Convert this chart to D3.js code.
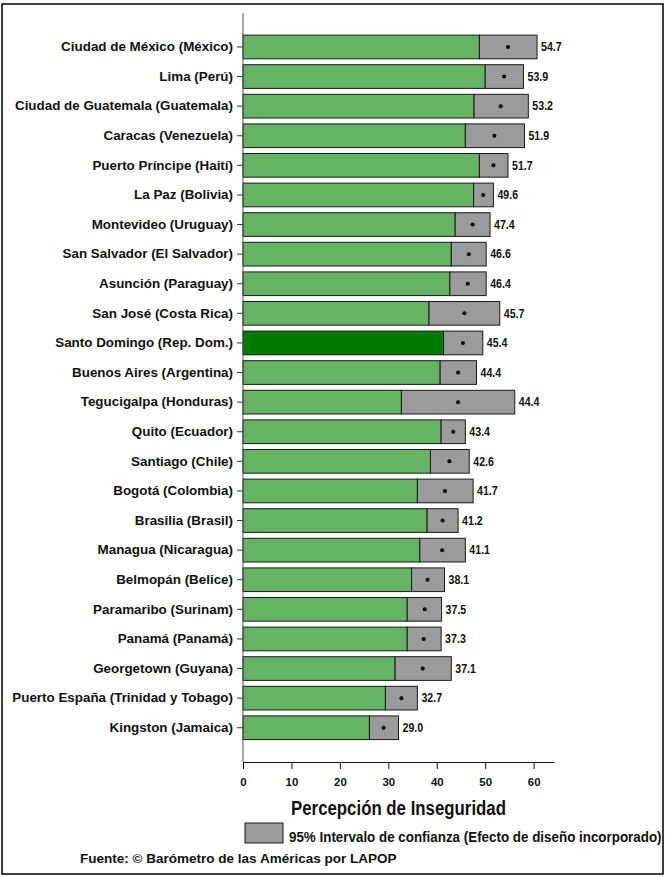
<!DOCTYPE html>
<html>
<head>
<meta charset="utf-8">
<script src="https://cdn.jsdelivr.net/npm/d3@7"></script>
<style>
  body { margin: 0; background: #fff; }
  text { font-family: 'Liberation Sans', Arial, sans-serif; font-weight: bold; }
</style>
</head>
<body>
<div id="chart"></div>
<script>
// cities, top to bottom
var cities = [
  'Ciudad de México (México)', 'Lima (Perú)', 'Ciudad de Guatemala (Guatemala)',
  'Caracas (Venezuela)', 'Puerto Príncipe (Haití)', 'La Paz (Bolivia)',
  'Montevideo (Uruguay)', 'San Salvador (El Salvador)', 'Asunción (Paraguay)',
  'San José (Costa Rica)', 'Santo Domingo (Rep. Dom.)', 'Buenos Aires (Argentina)',
  'Tegucigalpa (Honduras)', 'Quito (Ecuador)', 'Santiago (Chile)',
  'Bogotá (Colombia)', 'Brasilia (Brasil)', 'Managua (Nicaragua)',
  'Belmopán (Belice)', 'Paramaribo (Surinam)', 'Panamá (Panamá)',
  'Georgetown (Guyana)', 'Puerto España (Trinidad y Tobago)', 'Kingston (Jamaica)'
];

// mean values
var means = [54.7, 53.9, 53.2, 51.9, 51.7, 49.6, 47.4, 46.6, 46.4, 45.7, 45.4, 44.4,
  44.4, 43.4, 42.6, 41.7, 41.2, 41.1, 38.1, 37.5, 37.3, 37.1, 32.7, 29.0];

// 95% confidence interval, lower and upper bounds
var lower = [48.8, 50.0, 47.7, 45.9, 48.8, 47.6, 43.8, 43.0, 42.7, 38.4, 41.4, 40.7,
  32.7, 40.9, 38.7, 36.0, 38.0, 36.5, 34.8, 33.9, 33.9, 31.4, 29.4, 26.1];
var upper = [60.7, 57.9, 58.9, 58.1, 54.7, 51.7, 51.0, 50.2, 50.2, 53.0, 49.5, 48.2,
  56.1, 45.9, 46.7, 47.5, 44.4, 45.9, 41.6, 41.0, 40.9, 43.0, 36.0, 32.1];

var highlight = 'Santo Domingo (Rep. Dom.)';
var xTicks = [0, 10, 20, 30, 40, 50, 60];

var data = cities.map(function (c, i) {
  return { city: c, mean: means[i], lo: lower[i], hi: upper[i] };
});

var width = 665, height = 877;

// squeeze a text horizontally around its anchor (no narrow font installed)
function squeeze(sel, f) {
  sel.each(function () {
    var t = d3.select(this);
    var ax = +t.attr('x') || 0;
    t.attr('transform', 'translate(' + ax + ',0) scale(' + f + ',1) translate(' + (-ax) + ',0)');
  });
}
// squeeze a single text so it spans the given width
function fit(sel, w) {
  squeeze(sel, w / sel.node().getComputedTextLength());
}

var svg = d3.select('#chart')
  .append('svg')
  .attr('width', width)
  .attr('height', height);

// outer frame
svg.append('rect')
  .attr('x', 2).attr('y', 4)
  .attr('width', 661).attr('height', 870)
  .attr('fill', 'none')
  .attr('stroke', '#000')
  .attr('stroke-width', 1.5);

var x = d3.scaleLinear().domain([0, 64.2]).range([243, 554]);

var y = d3.scaleBand()
  .domain(cities)
  .range([29.2, 745.5])
  .paddingInner(0.2)
  .paddingOuter(0.2);

// green bar up to lower bound
svg.selectAll('.bar')
  .data(data)
  .enter()
  .append('rect')
  .attr('class', 'bar')
  .attr('x', x(0))
  .attr('y', function (d) { return y(d.city); })
  .attr('width', function (d) { return x(d.lo) - x(0); })
  .attr('height', y.bandwidth())
  .attr('fill', function (d) { return d.city === highlight ? '#007c00' : '#64b464'; })
  .attr('stroke', '#1a1a1a')
  .attr('stroke-width', 1);

// grey confidence box
svg.selectAll('.ci')
  .data(data)
  .enter()
  .append('rect')
  .attr('class', 'ci')
  .attr('x', function (d) { return x(d.lo); })
  .attr('y', function (d) { return y(d.city); })
  .attr('width', function (d) { return x(d.hi) - x(d.lo); })
  .attr('height', y.bandwidth())
  .attr('fill', '#9b9b9b')
  .attr('stroke', '#1a1a1a')
  .attr('stroke-width', 1);

// mean dot
svg.selectAll('.dot')
  .data(data)
  .enter()
  .append('circle')
  .attr('cx', function (d) { return x(d.mean); })
  .attr('cy', function (d) { return y(d.city) + y.bandwidth() / 2; })
  .attr('r', 2)
  .attr('fill', '#000');

// y axis
var yAxis = svg.append('g')
  .attr('transform', 'translate(' + x(0) + ',0)')
  .call(d3.axisLeft(y).tickSize(6).tickPadding(4));
yAxis.attr('font-family', null).attr('font-size', null);
yAxis.select('.domain').remove();
yAxis.selectAll('.tick line').attr('stroke', '#333');
var yLabels = yAxis.selectAll('.tick text')
  .attr('font-size', 13.5)
  .attr('fill', '#111');
var maxLen = d3.max(yLabels.nodes(), function (n) { return n.getComputedTextLength(); });
var narrow = 221 / maxLen;
squeeze(yLabels, narrow);

svg.append('line')
  .attr('x1', x(0)).attr('x2', x(0))
  .attr('y1', 13).attr('y2', 762)
  .attr('stroke', '#555')
  .attr('stroke-width', 1);

// value labels
var vals = svg.selectAll('.val')
  .data(data)
  .enter()
  .append('text')
  .attr('x', function (d) { return x(d.hi) + 4; })
  .attr('y', function (d) { return y(d.city) + y.bandwidth() / 2; })
  .attr('dy', '0.35em')
  .attr('font-size', 12)
  .attr('fill', '#111')
  .text(function (d) { return d.mean.toFixed(1); });
squeeze(vals, 20.7 / vals.node().getComputedTextLength());

// x axis
var xAxis = svg.append('g')
  .attr('transform', 'translate(0,762)')
  .call(d3.axisBottom(x).tickValues(xTicks).tickSize(7).tickPadding(9).tickSizeOuter(0));
xAxis.attr('font-family', null).attr('font-size', null);
xAxis.select('.domain').attr('stroke', '#111');
xAxis.selectAll('.tick line').attr('stroke', '#111');
var xLabels = xAxis.selectAll('.tick text')
  .attr('font-size', 11.5)
  .attr('fill', '#111');
squeeze(xLabels, narrow);

// axis title
var title = svg.append('text')
  .attr('x', (x(0) + 554) / 2)
  .attr('y', 815)
  .attr('text-anchor', 'middle')
  .attr('font-size', 19.5)
  .attr('fill', '#111')
  .text('Percepción de Inseguridad');
fit(title, 215);

// legend
svg.append('rect')
  .attr('x', 245).attr('y', 823)
  .attr('width', 38).attr('height', 20)
  .attr('fill', '#9b9b9b')
  .attr('stroke', '#1a1a1a');
var legText = svg.append('text')
  .attr('x', 289)
  .attr('y', 837)
  .attr('dy', '0.35em')
  .attr('font-size', 14)
  .attr('fill', '#111')
  .text('95% Intervalo de confianza (Efecto de diseño incorporado)');
fit(legText, 373);

// source
var src = svg.append('text')
  .attr('x', 80)
  .attr('y', 858)
  .attr('dy', '0.35em')
  .attr('font-size', 13)
  .attr('fill', '#111')
  .text('Fuente: © Barómetro de las Américas por LAPOP');
fit(src, 317);
</script>
</body>
</html>
